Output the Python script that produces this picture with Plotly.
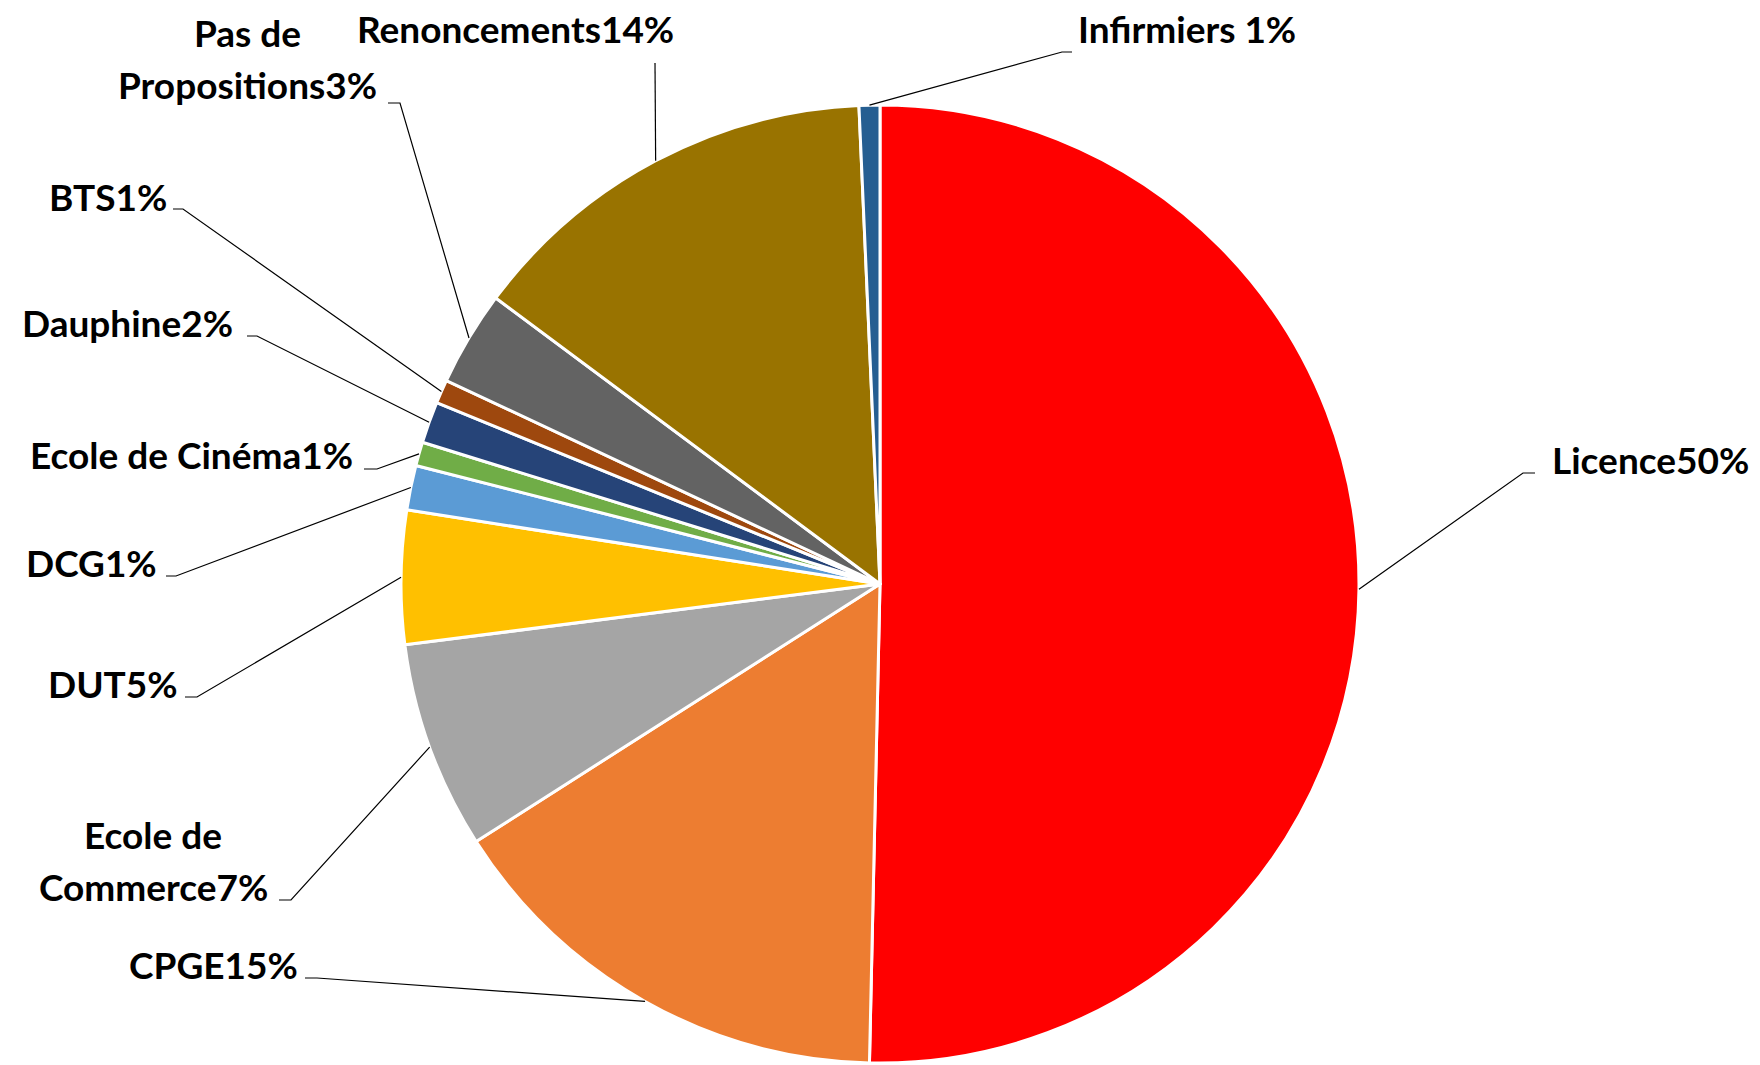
import math
import plotly.graph_objects as go

# ---------------- data ----------------
categories = ["Licence", "CPGE", "Ecole de Commerce", "DUT", "DCG", "Ecole de Cinéma",
              "Dauphine", "BTS", "Pas de Propositions", "Renoncements", "Infirmiers"]
shares = [50.3, 15.6, 7.0, 4.5, 1.5, 0.8, 1.4, 0.8, 3.2, 14.1, 0.7]
pct_labels = ["50%", "15%", "7%", "5%", "1%", "1%", "2%", "1%", "3%", "14%", "1%"]
separators = ["", "", "", "", "", "", "", "", "", "", " "]

# ---------------- style ----------------
colors = ["#FF0000", "#ED7D31", "#A5A5A5", "#FFC000", "#5B9BD5", "#70AD47",
          "#264478", "#9E480E", "#636363", "#997300", "#255E91"]

W, H = 1760, 1065
CX, CY, R = 880, 584, 479
FS = 37
LINE_GAP = 52

# label placement (pixels): text x, baseline of last line, anchor, words on first line, leader points
label_layout = [
    dict(x=1552, base=473, xanchor="left", wrap=0, leader=[(1523, 473), (1535, 473)]),
    dict(x=298, base=978, xanchor="right", wrap=0, leader=[(317, 978), (305, 978)]),
    dict(x=153, base=900, xanchor="center", wrap=2, leader=[(291, 900), (279, 900)]),
    dict(x=178, base=697, xanchor="right", wrap=0, leader=[(197, 697), (185, 697)]),
    dict(x=157, base=576, xanchor="right", wrap=0, leader=[(176, 576), (166, 576)]),
    dict(x=353, base=468, xanchor="right", wrap=0, leader=[(377, 469), (364, 469)]),
    dict(x=233, base=336, xanchor="right", wrap=0, leader=[(257, 336), (247, 336)]),
    dict(x=167, base=210, xanchor="right", wrap=0, leader=[(183, 209), (173, 209)]),
    dict(x=247, base=98, xanchor="center", wrap=2, leader=[(400, 103), (388, 103)]),
    dict(x=515, base=42, xanchor="center", wrap=0, leader=[(655, 63)]),
    dict(x=1078, base=42, xanchor="left", wrap=0, leader=[(1062, 52), (1072, 52)]),
]


def px(x):
    return x / W


def py(y):
    return 1 - y / H


fig = go.Figure()
fig.add_trace(go.Pie(
    values=shares, labels=categories, sort=False, direction="clockwise", rotation=0,
    marker=dict(colors=colors, line=dict(color="white", width=3)),
    textinfo="none", hoverinfo="label+percent", showlegend=False,
    domain=dict(x=[(CX - 528) / W, (CX + 528) / W],
                y=[(H - CY - R) / H, (H - CY + R) / H]),
))

total = sum(shares)
cum = 0.0
shapes = []
annotations = []
for cat, val, pct, sep, lay in zip(categories, shares, pct_labels, separators, label_layout):
    theta = math.radians((cum + val / 2) / total * 360)
    cum += val
    ax = CX + R * math.sin(theta)
    ay = CY - R * math.cos(theta)
    pts = [(ax, ay)] + lay["leader"]
    path = "M " + " L ".join(f"{px(x):.5f},{py(y):.5f}" for x, y in pts)
    shapes.append(dict(type="path", xref="paper", yref="paper", path=path,
                       line=dict(color="#000000", width=1.2)))

    text = cat + sep + pct
    if lay["wrap"]:
        words = text.split(" ")
        lines = [" ".join(words[:lay["wrap"]]), " ".join(words[lay["wrap"]:])]
    else:
        lines = [text]
    n = len(lines)
    for i, line in enumerate(lines):
        base = lay["base"] - (n - 1 - i) * LINE_GAP
        annotations.append(dict(
            x=px(lay["x"]), y=py(base - 0.358 * FS), xref="paper", yref="paper",
            text=f"<b>{line}</b>", showarrow=False, xanchor=lay["xanchor"], yanchor="middle",
            borderpad=0, borderwidth=0,
            font=dict(family="Lato", size=FS, color="#000000"),
        ))

fig.update_layout(
    width=W, height=H, margin=dict(l=0, r=0, t=0, b=0),
    paper_bgcolor="white", plot_bgcolor="white",
    shapes=shapes, annotations=annotations,
    font=dict(family="Lato"),
)

fig.write_html("out.html", config={"displayModeBar": False},
               post_script="document.body.style.margin='0';document.body.style.overflow='hidden';")
